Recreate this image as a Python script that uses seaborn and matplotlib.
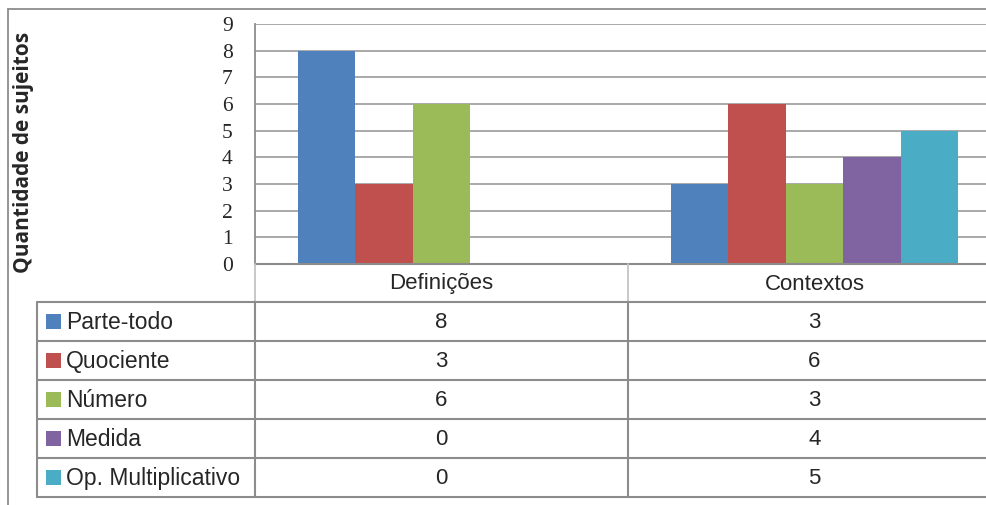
import pandas as pd
import seaborn as sns
import matplotlib.pyplot as plt

# dados do grafico
categorias = ["Definições", "Contextos"]
series = ["Parte-todo", "Quociente", "Número", "Medida", "Op. Multiplicativo"]
definicoes = [8, 3, 6, 0, 0]
contextos = [3, 6, 3, 4, 5]
cores = ["#4F81BD", "#C0504D", "#9BBB59", "#8064A2", "#4BACC6"]
yticks = list(range(0, 10))

df = pd.DataFrame({
    "categoria": [categorias[0]] * len(series) + [categorias[1]] * len(series),
    "serie": series * 2,
    "valor": definicoes + contextos,
})

sns.set_style("white")
plt.rcParams["font.family"] = ["Liberation Sans", "DejaVu Sans"]

W, H = 987, 505
fig = plt.figure(figsize=(W / 100, H / 100), dpi=100)

# area do grafico em pixels (passa da borda direita, como no original recortado)
left, right, top, bottom = 255, 1001, 24, 264
ax = fig.add_axes([left / W, 1 - bottom / H, (right - left) / W, (bottom - top) / H])
sns.barplot(data=df, x="categoria", y="valor", hue="serie", order=categorias,
            hue_order=series, palette=cores, saturation=1, width=0.77,
            linewidth=0, legend=False, ax=ax)
ax.set_xlim(-0.5, 1.5)
ax.set_ylim(0, 9)
ax.set_yticks(yticks)
ax.set_yticklabels([str(t) for t in yticks], family="Liberation Serif", fontsize=15.5)
ax.tick_params(axis="y", length=0, pad=16)
ax.set_xticks([])
ax.set_xlabel("")
ax.set_ylabel("")
ax.yaxis.grid(True, color="#a3a3a3", linewidth=1.3)
ax.set_axisbelow(True)
for s in ["top", "right"]:
    ax.spines[s].set_visible(False)
ax.spines["left"].set_color("#8c8c8c")
ax.spines["bottom"].set_color("#8c8c8c")
ax.spines["left"].set_linewidth(1.3)
ax.spines["bottom"].set_linewidth(1.5)

fig.text(24 / W, 1 - 152 / H, "Quantidade de sujeitos", rotation=90,
         ha="center", va="center", fontsize=15, fontweight="bold", family="Open Sans")

# tabela de dados desenhada por cima, em coordenadas de pixel
ov = fig.add_axes([0, 0, 1, 1], facecolor="none")
ov.set_xlim(0, W)
ov.set_ylim(H, 0)
ov.axis("off")

line_c = "#8c8c8c"
# borda externa do grafico
ov.plot([8, 8], [9, H], color=line_c, lw=1.3)
ov.plot([8, W], [9, 9], color=line_c, lw=1.3)

col_x = [left, 628, right]
col_c = [(col_x[0] + col_x[1]) / 2, (col_x[1] + col_x[2]) / 2]
row0, row_h = 302, 39
rows_y = [row0 + row_h * i for i in range(len(series) + 1)]
leg_x = 37

# cabecalho
for x in col_x[:2]:
    ov.plot([x, x], [bottom, row0], color="#c4c4c4", lw=1.3)
for c, nome in zip(col_c, categorias):
    ov.text(c, (bottom + row0) / 2 + 1, nome, ha="center", va="center", fontsize=16)

for y in rows_y:
    ov.plot([leg_x, W], [y, y], color=line_c, lw=1.5)
for x in [leg_x] + col_x[:2]:
    ov.plot([x, x], [row0, rows_y[-1]], color=line_c, lw=1.5)

for i, nome in enumerate(series):
    yc = (rows_y[i] + rows_y[i + 1]) / 2
    ov.add_patch(plt.Rectangle((46, yc - 7.5), 15, 15, color=cores[i], lw=0))
    ov.text(66, yc + 1, nome, ha="left", va="center", fontsize=16.5)
    ov.text(col_c[0], yc + 1, str(definicoes[i]), ha="center", va="center", fontsize=16)
    ov.text(col_c[1], yc + 1, str(contextos[i]), ha="center", va="center", fontsize=16)

fig.savefig("out.png", dpi=100)
